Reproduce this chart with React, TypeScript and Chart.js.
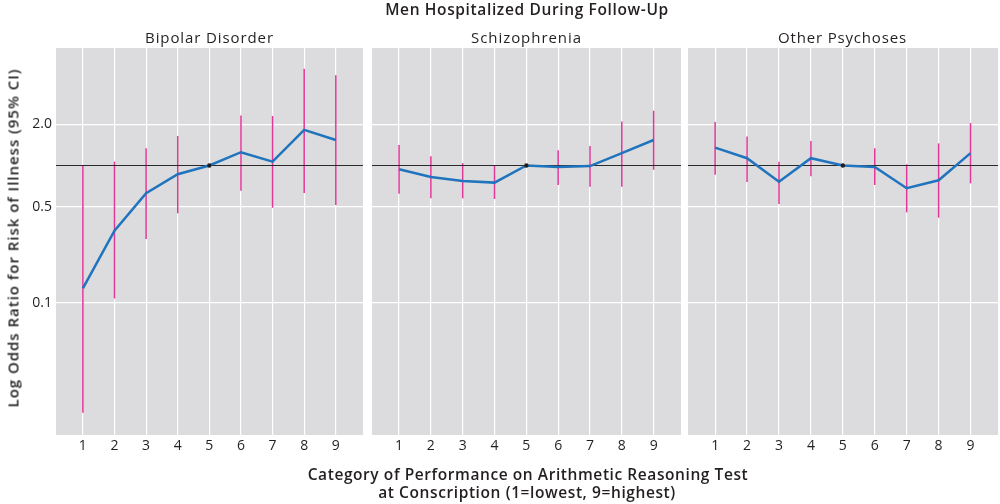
import React, { useEffect, useRef } from "react";
import { Chart, registerables } from "chart.js";

Chart.register(...registerables);

const CATEGORIES = [1, 2, 3, 4, 5, 6, 7, 8, 9];
const X_TICK_LABELS = ["1", "2", "3", "4", "5", "6", "7", "8", "9"];
const Y_TICKS = [0.1, 0.5, 2.0];
const Y_TICK_LABELS = ["0.1", "0.5", "2.0"];
const REFERENCE_OR = 1.0;

const MAIN_TITLE = "Men Hospitalized During Follow-Up";
const PANEL_TITLES = ["Bipolar Disorder", "Schizophrenia", "Other Psychoses"];
const Y_TITLE = "Log Odds Ratio for Risk of Illness (95% CI)";
const X_TITLE_1 = "Category of Performance on Arithmetic Reasoning Test";
const X_TITLE_2 = "at Conscription (1=lowest, 9=highest)";

const bipolarOR = [0.127, 0.334, 0.627, 0.863, 1.0, 1.25, 1.066, 1.82, 1.535];
const bipolarLow = [0.0157, 0.107, 0.291, 0.448, null, 0.655, 0.492, 0.63, 0.515];
const bipolarHigh = [1.0, 1.066, 1.335, 1.64, null, 2.32, 2.3, 5.09, 4.55];

const schizOR = [0.938, 0.824, 0.77, 0.75, 1.0, 0.975, 0.99, 1.23, 1.535];
const schizLow = [0.623, 0.576, 0.576, 0.57, null, 0.72, 0.7, 0.7, 0.93];
const schizHigh = [1.41, 1.167, 1.04, 1.0, null, 1.29, 1.39, 2.09, 2.51];

const otherOR = [1.35, 1.13, 0.762, 1.13, 1.0, 0.975, 0.682, 0.78, 1.23];
const otherLow = [0.857, 0.758, 0.524, 0.834, null, 0.72, 0.455, 0.416, 0.741];
const otherHigh = [2.08, 1.63, 1.066, 1.51, null, 1.335, 1.02, 1.45, 2.04];

const X_MIN = 0.15;
const X_MAX = 9.86;
const Y_MIN = 0.0108;
const Y_MAX = 7.2;

const FONT = "'Open Sans', 'DejaVu Sans', sans-serif";
const TEXT_COLOR = "#231f20";
const PANEL_BG = "#dcdcde";
const LINE_COLOR = "#1f74bd";
const CI_COLOR = "#e2379a";

let measureCtx: CanvasRenderingContext2D | null = null;
function measure(text: string, size: number, weight: number) {
  if (!measureCtx) measureCtx = document.createElement("canvas").getContext("2d");
  if (!measureCtx) return text.length * size * 0.55;
  measureCtx.font = `${weight} ${size}px ${FONT}`;
  return measureCtx.measureText(text).width;
}

type FitProps = {
  text: string;
  cx: number;
  cy: number;
  target: number;
  size: number;
  weight: number;
  rotate?: boolean;
};

function FitText({ text, cx, cy, target, size, weight, rotate }: FitProps) {
  const w = measure(text, size, weight);
  const ls = (target - w) / Math.max(1, text.length - 1);
  return (
    <div
      style={{
        position: "absolute",
        left: cx,
        top: cy,
        transform: `translate(-50%,-50%)${rotate ? " rotate(-90deg)" : ""}`,
        fontFamily: FONT,
        fontSize: size,
        fontWeight: weight,
        color: TEXT_COLOR,
        whiteSpace: "nowrap",
        lineHeight: 1,
        letterSpacing: `${ls}px`,
        marginRight: `${-ls}px`,
      }}
    >
      {text}
    </div>
  );
}

type PanelProps = {
  left: number;
  width: number;
  padLeft: number;
  padRight: number;
  showY: boolean;
  or: number[];
  low: (number | null)[];
  high: (number | null)[];
};

function Panel({ left, width, padLeft, padRight, showY, or, low, high }: PanelProps) {
  const ref = useRef<HTMLCanvasElement>(null);
  useEffect(() => {
    if (!ref.current) return;
    const bgPlugin = {
      id: "panelBg",
      beforeDraw(chart: any) {
        const { ctx, chartArea } = chart;
        ctx.save();
        ctx.fillStyle = PANEL_BG;
        ctx.fillRect(chartArea.left, chartArea.top, chartArea.right - chartArea.left, chartArea.bottom - chartArea.top);
        ctx.restore();
      },
    };
    const ciPlugin = {
      id: "ciBars",
      beforeDatasetsDraw(chart: any) {
        const { ctx } = chart;
        const xs = chart.scales.x;
        const ys = chart.scales.y;
        ctx.save();
        ctx.strokeStyle = CI_COLOR;
        ctx.lineWidth = 1.5;
        CATEGORIES.forEach((c, i) => {
          const lo = low[i];
          const hi = high[i];
          if (lo == null || hi == null) return;
          const x = xs.getPixelForValue(c);
          ctx.beginPath();
          ctx.moveTo(x, ys.getPixelForValue(lo));
          ctx.lineTo(x, ys.getPixelForValue(hi));
          ctx.stroke();
        });
        ctx.restore();
      },
    };
    const chart = new Chart(ref.current, {
      type: "line",
      data: {
        datasets: [
          {
            data: CATEGORIES.map((c, i) => ({ x: c, y: or[i] })),
            borderColor: LINE_COLOR,
            borderWidth: 2.5,
            pointRadius: CATEGORIES.map((c) => (c === 5 ? 2.2 : 0)),
            pointBackgroundColor: "#1d1d1d",
            pointBorderWidth: 0,
            tension: 0,
            order: 0,
          },
          {
            data: [
              { x: X_MIN, y: REFERENCE_OR },
              { x: X_MAX, y: REFERENCE_OR },
            ],
            borderColor: "#2a2a2a",
            borderWidth: 1.2,
            pointRadius: 0,
            order: 1,
          },
        ],
      },
      options: {
        responsive: false,
        animation: false,
        devicePixelRatio: 1,
        layout: { padding: { left: padLeft, right: padRight, top: 48, bottom: 44 } },
        plugins: { legend: { display: false }, tooltip: { enabled: false }, title: { display: false } },
        scales: {
          x: {
            type: "linear",
            min: X_MIN,
            max: X_MAX,
            border: { display: false },
            grid: { color: "#ffffff", lineWidth: 1.2, drawTicks: false },
            afterBuildTicks: (s: any) => {
              s.ticks = CATEGORIES.map((v) => ({ value: v }));
            },
            afterFit: (s: any) => {
              s.height = 25;
            },
            ticks: {
              padding: 3,
              color: TEXT_COLOR,
              font: { family: FONT, size: 14 },
              callback: (v: any) => X_TICK_LABELS[CATEGORIES.indexOf(Number(v))] ?? "",
            },
          },
          y: {
            type: "logarithmic",
            min: Y_MIN,
            max: Y_MAX,
            border: { display: false },
            grid: { color: "#ffffff", lineWidth: 1.2, drawTicks: false },
            afterBuildTicks: (s: any) => {
              s.ticks = Y_TICKS.map((v) => ({ value: v }));
            },
            afterFit: (s: any) => {
              s.width = showY ? 56 : 0;
            },
            ticks: {
              display: showY,
              padding: 4,
              color: TEXT_COLOR,
              font: { family: FONT, size: 14 },
              callback: (v: any) => {
                const idx = Y_TICKS.findIndex((t) => Math.abs(t - Number(v)) < 1e-9);
                return idx >= 0 ? Y_TICK_LABELS[idx] : "";
              },
            },
          },
        },
      } as any,
      plugins: [bgPlugin, ciPlugin],
    });
    return () => chart.destroy();
  }, []);
  return (
    <canvas
      ref={ref}
      width={width}
      height={504}
      style={{ position: "absolute", left, top: 0, width, height: 504 }}
    />
  );
}

export default function App() {
  const panelCenters = [209.5, 526.5, 842.5];
  const panelTitleWidths = [128, 110, 128];
  return (
    <div style={{ position: "absolute", left: 0, top: 0, width: 1000, height: 504, background: "#fff", overflow: "hidden" }}>
      <Panel left={0} width={370} padLeft={0} padRight={7} showY={true} or={bipolarOR} low={bipolarLow} high={bipolarHigh} />
      <Panel left={366} width={320} padLeft={6} padRight={5} showY={false} or={schizOR} low={schizLow} high={schizHigh} />
      <Panel left={684} width={316} padLeft={4} padRight={2} showY={false} or={otherOR} low={otherLow} high={otherHigh} />
      <FitText text={MAIN_TITLE} cx={527} cy={10} target={283} size={15.5} weight={600} />
      {PANEL_TITLES.map((t, i) => (
        <FitText key={t} text={t} cx={panelCenters[i]} cy={37} target={panelTitleWidths[i]} size={15} weight={500} />
      ))}
      <FitText text={Y_TITLE} cx={13} cy={238} target={338} size={15} weight={600} rotate={true} />
      <FitText text={X_TITLE_1} cx={528} cy={475} target={440} size={15.5} weight={600} />
      <FitText text={X_TITLE_2} cx={527} cy={493} target={297} size={15.5} weight={600} />
    </div>
  );
}
